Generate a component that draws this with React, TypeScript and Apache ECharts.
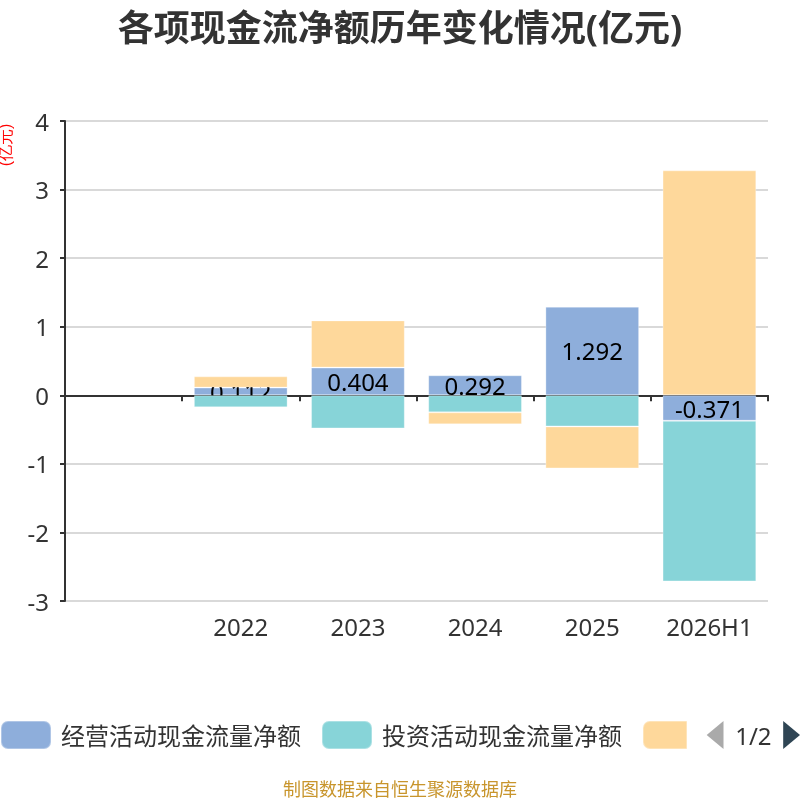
import React, { useEffect, useRef } from 'react';
import * as echarts from 'echarts';

const categories = ['', '2022', '2023', '2024', '2025', '2026H1'];
const seriesNames = ['经营活动现金流量净额', '投资活动现金流量净额', '筹资活动现金流量净额'];
const operating = [null, 0.112, 0.404, 0.292, 1.292, -0.371];
const investing = [null, -0.176, -0.483, -0.249, -0.454, -2.343];
const financing = [null, 0.164, 0.688, -0.175, -0.612, 3.28];
const colors = ['#8eaedb', '#87d4d8', '#fed89b'];
const yTicks = { min: -3, max: 4, interval: 1 };

const App: React.FC = () => {
  const chartRef = useRef<HTMLDivElement>(null);

  useEffect(() => {
    if (!chartRef.current) return;
    const myChart = echarts.init(chartRef.current, null, { renderer: 'svg' });

    const barStyle = { borderColor: 'rgba(255,255,255,0.3)', borderWidth: 1 };

    const option = {
      animation: false,
      color: colors,
      textStyle: { fontFamily: "'Noto Sans', 'Noto Sans CJK SC', sans-serif" },
      title: [
        {
          text: '各项现金流净额历年变化情况(亿元)',
          left: 'center',
          top: 4,
          textStyle: { fontSize: 36, fontWeight: 'bold', color: '#333' },
        },
        {
          text: '制图数据来自恒生聚源数据库',
          left: 'center',
          top: 775,
          textStyle: { fontSize: 18, fontWeight: 'normal', color: '#c8952c' },
        },
      ],
      graphic: [
        {
          type: 'text',
          x: 5,
          y: 145,
          rotation: Math.PI / 2,
          style: {
            text: '(亿元)',
            fill: '#ff0000',
            fontSize: 16,
            textAlign: 'center',
            textVerticalAlign: 'middle',
          },
        },
      ],
      legend: {
        type: 'scroll',
        left: 0,
        right: 0,
        top: 720,
        padding: 0,
        itemWidth: 50,
        itemHeight: 28,
        itemGap: 20,
        icon: 'roundRect',
        textStyle: { fontSize: 24, color: '#333', padding: [0, 0, 0, 5] },
        pageIconSize: [17, 28],
        pageButtonItemGap: 0,
        pageButtonGap: 20,
        pageIconColor: '#2f4554',
        pageIconInactiveColor: '#aaa',
        pageTextStyle: { fontSize: 24, color: '#333' },
        data: seriesNames,
      },
      grid: { left: 65, right: 32, top: 121, bottom: 199 },
      xAxis: [
        {
          type: 'category',
          data: categories,
          position: 'bottom',
          axisLine: { onZero: true, lineStyle: { color: '#333', width: 2 } },
          axisTick: { show: true, length: 6, lineStyle: { color: '#333', width: 2 } },
          axisLabel: { show: false },
        },
        {
          type: 'category',
          data: categories,
          position: 'bottom',
          axisLine: { show: false, onZero: false },
          axisTick: { show: false },
          axisLabel: { fontSize: 24, color: '#333', margin: 13 },
        },
      ],
      yAxis: {
        type: 'value',
        min: yTicks.min,
        max: yTicks.max,
        interval: yTicks.interval,
        axisLine: { show: true, lineStyle: { color: '#333', width: 2 } },
        axisTick: { show: true, length: 5, lineStyle: { color: '#333', width: 2 } },
        axisLabel: { fontSize: 24, color: '#333', margin: 16 },
        splitLine: { lineStyle: { color: '#ccc', width: 1.5 } },
      },
      series: [
        {
          name: seriesNames[0],
          type: 'bar',
          stack: 'total',
          barWidth: '80%',
          z: 2,
          data: operating,
          itemStyle: barStyle,
          label: { show: true, position: 'inside', fontSize: 24, color: '#000' },
        },
        {
          name: seriesNames[1],
          type: 'bar',
          stack: 'total',
          barWidth: '80%',
          z: 3,
          data: investing,
          itemStyle: barStyle,
        },
        {
          name: seriesNames[2],
          type: 'bar',
          stack: 'total',
          barWidth: '80%',
          z: 3,
          data: financing,
          itemStyle: barStyle,
        },
      ],
    };

    myChart.setOption(option);

    return () => {
      myChart.dispose();
    };
  }, []);

  return (
    <div
      ref={chartRef}
      style={{ position: 'fixed', left: 0, top: 0, width: '800px', height: '800px' }}
    ></div>
  );
};

export default App;
